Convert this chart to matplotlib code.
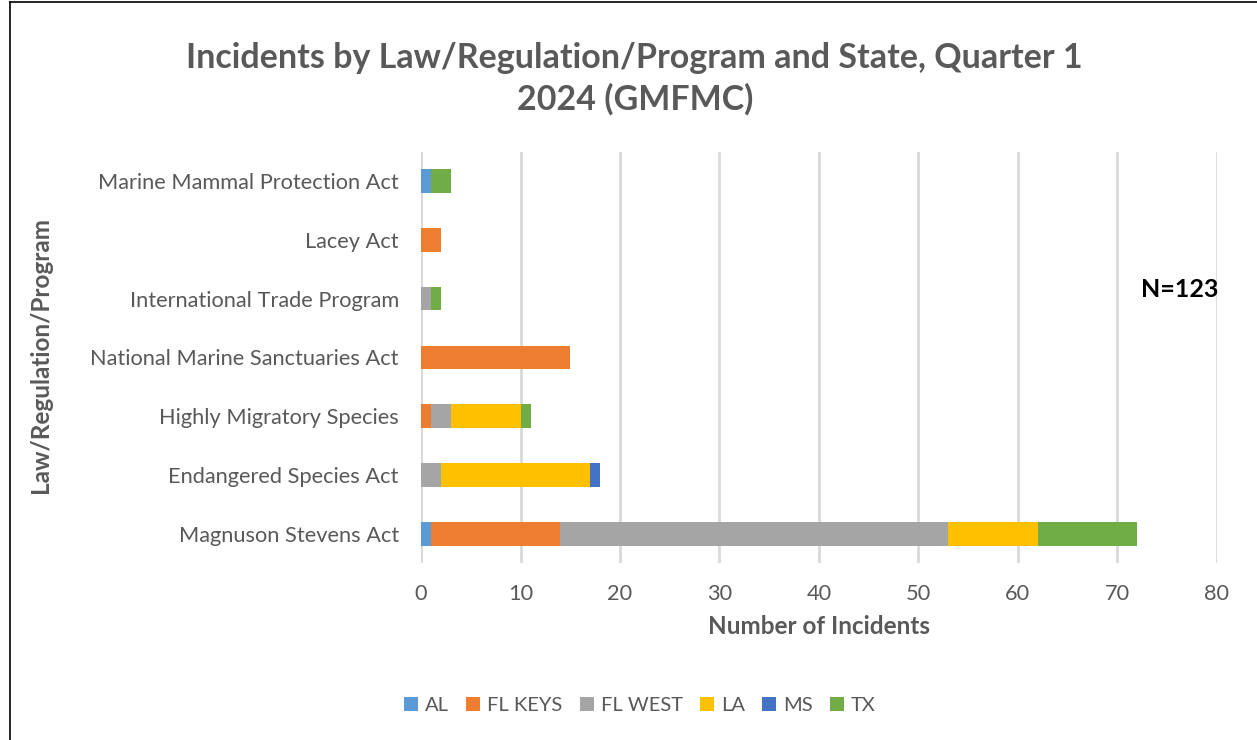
import matplotlib.pyplot as plt
import numpy as np
from matplotlib.lines import Line2D

# data (bottom to top)
laws = ["Magnuson Stevens Act", "Endangered Species Act", "Highly Migratory Species",
        "National Marine Sanctuaries Act", "International Trade Program", "Lacey Act",
        "Marine Mammal Protection Act"]
states = ["AL", "FL KEYS", "FL WEST", "LA", "MS", "TX"]
al      = [1, 0, 0, 0, 0, 0, 1]
fl_keys = [13, 0, 1, 15, 0, 2, 0]
fl_west = [39, 2, 2, 0, 1, 0, 0]
la      = [9, 15, 7, 0, 0, 0, 0]
ms      = [0, 1, 0, 0, 0, 0, 0]
tx      = [10, 0, 1, 0, 1, 0, 2]
colors = ["#5b9bd5", "#ed7d31", "#a5a5a5", "#ffc000", "#4472c4", "#70ad47"]

plt.rcParams['font.family'] = ['Lato', 'DejaVu Sans']
grey = "#595959"

fig = plt.figure(figsize=(12.57, 7.40), dpi=100)
ax = fig.add_axes([0.335, 0.239, 0.633, 0.556])

y = np.arange(len(laws))
left = np.zeros(len(laws))
for name, vals, c in zip(states, [al, fl_keys, fl_west, la, ms, tx], colors):
    ax.barh(y, vals, left=left, height=0.4, color=c, label=name, zorder=3)
    left += np.array(vals)

ax.set_xlim(0, 80)
ax.set_ylim(-0.5, len(laws) - 0.5)
ax.set_xticks(range(0, 81, 10))
ax.set_yticks(y)
ax.set_yticklabels(laws)
ax.tick_params(axis='both', length=0, labelsize=15.7, colors=grey)
ax.tick_params(axis='y', pad=16)
ax.tick_params(axis='x', pad=15)
ax.grid(axis='x', color="#d9d9d9", linewidth=2, zorder=0)
for s in ax.spines.values():
    s.set_visible(False)

ax.set_xlabel("Number of Incidents", fontsize=17.5, fontweight='bold', color=grey, labelpad=8)
fig.text(0.032, 0.52, "Law/Regulation/Program", rotation=90, ha='center', va='center',
         fontsize=17.5, fontweight='bold', color=grey)
fig.text(0.505, 0.894, "Incidents by Law/Regulation/Program and State, Quarter 1\n2024 (GMFMC)",
         ha='center', va='center', fontsize=24.5, fontweight='bold', color=grey, linespacing=1.35)
fig.text(0.969, 0.609, "N=123", ha='right', va='center', fontsize=18, fontweight='bold', color='black')

leg = fig.legend(loc='center', bbox_to_anchor=(0.509, 0.047), ncol=6, frameon=False,
                 fontsize=14.5, handlelength=0.7, handleheight=0.7, handletextpad=0.35,
                 columnspacing=0.85)
for t in leg.get_texts():
    t.set_color(grey)

# outer chart border
fig.add_artist(Line2D([0.008, 0.008], [0, 0.997], color='black', linewidth=1.2))
fig.add_artist(Line2D([0.008, 1], [0.997, 0.997], color='black', linewidth=1.2))

fig.savefig("out.png", dpi=100)
